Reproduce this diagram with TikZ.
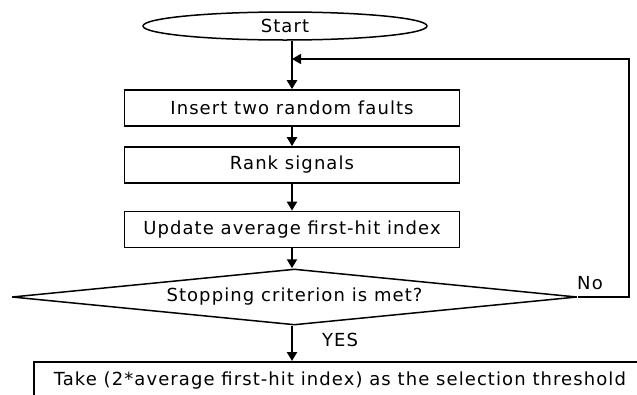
\documentclass[tikz,border=0pt]{standalone}
\usepackage{fontspec}
\setmainfont{DejaVu Sans}[LetterSpace=6]
\usetikzlibrary{arrows.meta,shapes.geometric}
\begin{document}
\begin{tikzpicture}[x=1pt,y=-1pt,
  every node/.style={font=\fontsize{18}{21}\selectfont},
  procbox/.style={draw,line width=1.7pt,minimum width=335pt,minimum height=36pt,inner sep=0pt},
  thickarrow/.style={line width=2.8pt,-{Triangle[length=9pt,width=10pt]}},
  thinarrow/.style={line width=1.6pt,-{Triangle[length=9pt,width=10pt]}},
  plainlab/.style={inner sep=0pt}]
\path[use as bounding box,clip] (0,0) rectangle (637,394);
\node[draw,ellipse,line width=1.5pt,minimum width=284pt,minimum height=28pt,inner sep=0pt] (start) at (285,26) {Start};
\node[procbox] (b1) at (292,108) {Insert two random faults};
\node[procbox] (b2) at (292,165) {Rank signals};
\node[procbox] (b3) at (292,229.5) {Update average first-hit index};
\node[draw,diamond,shape aspect=10,line width=1.5pt,minimum width=565pt,minimum height=56pt,inner sep=0pt] (dia) at (294.5,297) {Stopping criterion is met?};
\node[procbox,anchor=north west,minimum width=612pt,minimum height=38pt] (fin) at (33,361) {Take (2*average first-hit index) as the selection threshold};
\coordinate (fb) at (292,59);
\node[plainlab] (no) at (590,283) {No};
\node[plainlab] (yes) at (340,340) {YES};
\draw[thickarrow] (b1.north |- start.south) -- (b1.north);
\draw[thickarrow] (b1.south) -- (b2.north);
\draw[thickarrow] (b2.south) -- (b3.north);
\draw[thickarrow] (b3.south) -- (b3.south |- dia.north);
\draw[thickarrow] (b3.south |- dia.south) -- (b3.south |- fin.north);
\draw[thinarrow] (dia.east) -- (629,297) |- (fb);
\end{tikzpicture}
\end{document}
